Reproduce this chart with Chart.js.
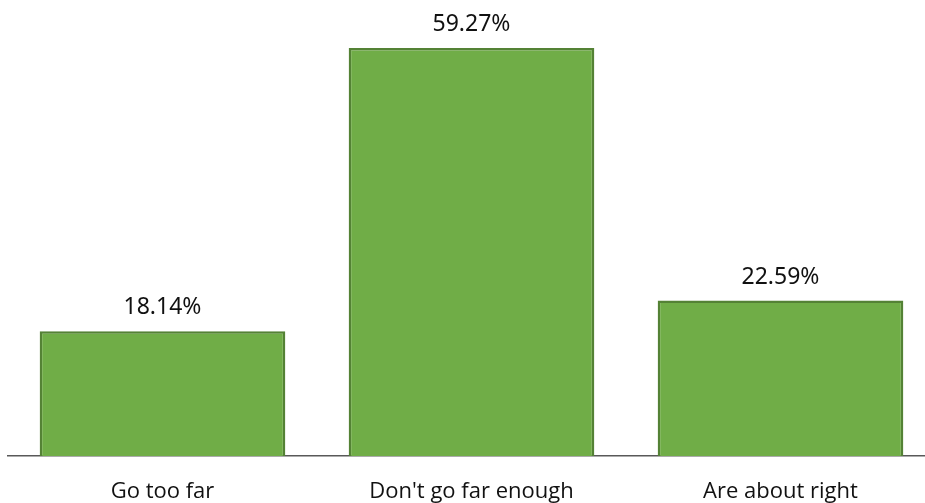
<!DOCTYPE html>
<html>
<head>
<meta charset="utf-8">
<script src="https://cdn.jsdelivr.net/npm/chart.js@4/dist/chart.umd.min.js"></script>
<style>
html,body{margin:0;padding:0;background:#fff;overflow:hidden;width:925px;height:503px;}
canvas{display:block;}
</style>
</head>
<body>
<canvas id="c" width="936" height="528"></canvas>
<script>
const categories = ["Go too far", "Don't go far enough", "Are about right"];
const shares = [18.14, 59.27, 22.59];
const valueLabels = ["18.14%", "59.27%", "22.59%"];

const labelPlugin = {
  id: 'valueLabels',
  afterDatasetsDraw(chart) {
    const ctx = chart.ctx;
    const meta = chart.getDatasetMeta(0);
    ctx.save();
    ctx.font = '23px "Noto Sans", "Open Sans", sans-serif';
    ctx.fillStyle = '#111';
    ctx.textAlign = 'center';
    ctx.textBaseline = 'alphabetic';
    meta.data.forEach((bar, i) => {
      ctx.fillText(valueLabels[i], bar.x, bar.y - 17);
    });
    ctx.restore();
  }
};

new Chart(document.getElementById('c'), {
  type: 'bar',
  data: {
    labels: categories,
    datasets: [{
      data: shares,
      backgroundColor: '#70AD47',
      borderColor: '#548235',
      borderWidth: 2.5,
      categoryPercentage: 1,
      barPercentage: 0.795
    }]
  },
  options: {
    responsive: false,
    animation: false,
    devicePixelRatio: 1,
    layout: { padding: { left: 8, right: 1, top: 43, bottom: 0 } },
    plugins: { legend: { display: false }, tooltip: { enabled: false } },
    scales: {
      x: {
        grid: { display: false, drawTicks: false },
        border: { display: true, color: '#595959', width: 1.5 },
        ticks: {
          color: '#111',
          padding: 22.8,
          font: { family: '"Open Sans", "Noto Sans", sans-serif', size: 22, lineHeight: 1.2 }
        }
      },
      y: {
        display: false,
        min: 0,
        max: 60
      }
    }
  },
  plugins: [labelPlugin]
});
</script>
</body>
</html>
